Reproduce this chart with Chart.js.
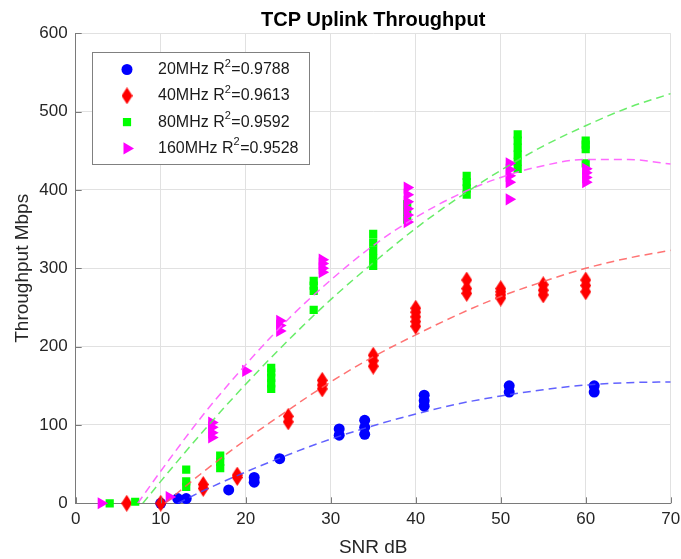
<!DOCTYPE html>
<html>
<head>
<meta charset="utf-8">
<script src="https://cdn.jsdelivr.net/npm/chart.js"></script>
<style>
  html, body { margin: 0; padding: 0; background: #fff; }
  #wrap { width: 681px; height: 559px; }
</style>
</head>
<body>
<div id="wrap"><canvas id="chart" width="681" height="559"></canvas></div>
<script>
// measured points, SNR (dB) vs throughput (Mbps)
const snr20 = [10, 12, 13, 18, 21, 21, 24, 31, 31, 34, 34, 34, 41, 41, 41, 51, 51, 61, 61];
const tput20 = [0, 6, 6, 17, 27, 33, 57, 87, 95, 88, 97, 106, 124, 131, 138, 142, 150, 142, 150];

const snr40 = [6, 10, 15, 15, 19, 19, 25, 25, 29, 29, 29, 35, 35, 35, 40, 40, 40, 40, 40, 46, 46, 46, 50, 50, 50, 50, 55, 55, 55, 60, 60, 60];
const tput40 = [0, 0, 19, 24, 33, 36, 104, 111, 146, 151, 157, 175, 182, 189, 226, 232, 238, 244, 249, 268, 274, 285, 262, 266, 270, 274, 266, 272, 279, 270, 278, 285];

const snr80 = [4, 7, 13, 13, 13, 17, 17, 17, 23, 23, 23, 23, 23, 28, 28, 28, 28, 35, 35, 35, 35, 35, 39, 39, 39, 46, 46, 46, 46, 52, 52, 52, 52, 52, 52, 60, 60, 60, 60];
const tput80 = [0, 2, 21, 28, 43, 45, 53, 61, 146, 153, 160, 167, 173, 247, 271, 278, 284, 303, 313, 323, 333, 344, 362, 372, 382, 394, 402, 410, 418, 427, 436, 445, 454, 463, 471, 434, 452, 458, 463];

const snr160 = [3, 11, 16, 16, 16, 16, 20, 24, 24, 24, 29, 29, 29, 29, 39, 39, 39, 39, 39, 39, 51, 51, 51, 51, 51, 60, 60, 60, 60];
const tput160 = [0, 8, 84, 90, 97, 103, 169, 220, 227, 233, 295, 300, 306, 311, 359, 368, 376, 385, 394, 403, 388, 410, 418, 426, 434, 410, 416, 422, 427];

// fitted curves
const fitX20 = [12, 15, 20, 25, 30, 35, 40, 45, 50, 55, 60, 65, 70];
const fitY20 = [0, 16, 40, 62, 82, 99, 114, 127, 137, 145, 151, 154, 155];
const fitX40 = [10.5, 15, 20, 25, 30, 35, 40, 45, 50, 55, 60, 65, 70];
const fitY40 = [0, 40, 81, 119, 155, 187, 215, 241, 264, 283, 300, 313, 323];
const fitX80 = [7.9, 10, 15, 20, 25, 30, 35, 40, 45, 50, 55, 60, 65, 70];
const fitY80 = [0, 28, 92, 152, 208, 260, 307, 351, 390, 425, 456, 482, 505, 523];
const fitX160 = [7.3, 10, 15, 20, 25, 30, 35, 40, 45, 50, 55, 60, 65, 70];
const fitY160 = [0, 41, 113, 177, 235, 285, 329, 365, 394, 416, 431, 439, 439, 433];

const names = ['20MHz', '40MHz', '80MHz', '160MHz'];
const rSquared = ['0.9788', '0.9613', '0.9592', '0.9528'];
const colors = ['#0000ff', '#ff0000', '#00ff00', '#ff00ff'];
const fitColors = ['rgba(70,70,255,0.85)', 'rgba(255,90,90,0.85)', 'rgba(90,235,90,0.9)', 'rgba(255,90,255,0.9)'];

const FONT = '"Liberation Sans", Arial, sans-serif';

function pairs(xs, ys) {
  return xs.map((x, i) => ({ x: x, y: ys[i] }));
}

// tall diamond marker like matlab's 'd'
function diamond(color, w, h) {
  var c = document.createElement('canvas');
  c.width = w; c.height = h;
  var g = c.getContext('2d');
  g.fillStyle = color;
  g.beginPath();
  g.moveTo(w / 2, 0);
  g.lineTo(w, h / 2);
  g.lineTo(w / 2, h);
  g.lineTo(0, h / 2);
  g.closePath();
  g.fill();
  return c;
}

const markerStyles = [
  { pointStyle: 'circle', radius: 5.5, rotation: 0 },
  { pointStyle: diamond(colors[1], 11, 17), radius: 8, rotation: 0 },
  { pointStyle: 'rect', radius: 5.8, rotation: 0 },
  { pointStyle: 'triangle', radius: 7, rotation: 90 }
];

const pointSets = [pairs(snr20, tput20), pairs(snr40, tput40), pairs(snr80, tput80), pairs(snr160, tput160)];
const fitSets = [pairs(fitX20, fitY20), pairs(fitX40, fitY40), pairs(fitX80, fitY80), pairs(fitX160, fitY160)];

var datasets = [];
for (var i = 0; i < 4; i++) {
  datasets.push({
    label: names[i] + ' R²=' + rSquared[i],
    data: pointSets[i],
    backgroundColor: colors[i],
    borderColor: colors[i],
    borderWidth: 0,
    pointStyle: markerStyles[i].pointStyle,
    pointRadius: markerStyles[i].radius,
    rotation: markerStyles[i].rotation,
    order: 5 - i,
    clip: 12,
    inLegend: true
  });
}
for (var j = 0; j < 4; j++) {
  datasets.push({
    label: names[j] + ' fit',
    data: fitSets[j],
    showLine: true,
    borderColor: fitColors[j],
    borderWidth: 1.5,
    borderDash: [8, 5],
    pointRadius: 0,
    cubicInterpolationMode: 'monotone',
    order: 0,
    inLegend: false
  });
}

// legend box drawn inside the axes, matlab style
const boxLegend = {
  id: 'boxLegend',
  afterDraw(chart) {
    var ctx = chart.ctx;
    var x0 = 92.5, y0 = 52.5, w = 217, h = 112;
    ctx.save();
    ctx.fillStyle = '#fff';
    ctx.fillRect(x0, y0, w, h);
    ctx.strokeStyle = '#808080';
    ctx.lineWidth = 1;
    ctx.strokeRect(x0, y0, w, h);
    var items = chart.data.datasets.filter(d => d.inLegend);
    items.forEach(function (ds, k) {
      var cy = 69.5 + k * 26.3;
      ctx.fillStyle = ds.backgroundColor;
      ctx.strokeStyle = ds.borderColor;
      Chart.helpers.drawPoint(ctx, {
        pointStyle: ds.pointStyle, radius: ds.pointRadius,
        rotation: ds.rotation, borderWidth: 0
      }, 127, cy);
      ctx.fillStyle = '#1a1a1a';
      ctx.textBaseline = 'middle';
      ctx.textAlign = 'left';
      ctx.font = '16px ' + FONT;
      var tx = 158;
      var a = names[k] + ' R';
      ctx.fillText(a, tx, cy);
      tx += ctx.measureText(a).width;
      ctx.font = '11px ' + FONT;
      ctx.fillText('2', tx, cy - 6);
      tx += ctx.measureText('2').width + 0.5;
      ctx.font = '16px ' + FONT;
      ctx.fillText('=' + rSquared[k], tx, cy);
    });
    ctx.restore();
  }
};

// inward tick marks on the two axes
const inTicks = {
  id: 'inTicks',
  afterDraw(chart) {
    var ctx = chart.ctx, a = chart.chartArea;
    var xs = chart.scales.x, ys = chart.scales.y;
    ctx.save();
    ctx.strokeStyle = '#7a7a7a';
    ctx.lineWidth = 1;
    ctx.beginPath();
    xs.ticks.forEach(function (t) {
      var px = Math.round(xs.getPixelForValue(t.value)) + 0.5;
      ctx.moveTo(px, a.bottom);
      ctx.lineTo(px, a.bottom - 6);
    });
    ys.ticks.forEach(function (t) {
      var py = Math.round(ys.getPixelForValue(t.value)) + 0.5;
      ctx.moveTo(a.left, py);
      ctx.lineTo(a.left + 6, py);
    });
    ctx.stroke();
    ctx.restore();
  }
};

new Chart(document.getElementById('chart'), {
  type: 'scatter',
  data: { datasets: datasets },
  options: {
    responsive: false,
    animation: false,
    events: [],
    layout: { padding: { left: 0, right: 0, top: 0, bottom: 0 } },
    plugins: {
      legend: { display: false },
      tooltip: { enabled: false },
      title: {
        display: true,
        fullSize: false,
        text: 'TCP Uplink Throughput',
        color: '#000',
        font: { family: FONT, size: 20, weight: 'bold' },
        padding: { top: 8, bottom: 1.3 }
      }
    },
    scales: {
      x: {
        type: 'linear',
        min: 0, max: 70,
        afterFit(scale) { scale.height = 55.7; scale.paddingRight = 10.3; },
        ticks: { stepSize: 10, color: '#262626', padding: 6, font: { family: FONT, size: 17 } },
        grid: { color: '#e1e1e1', drawTicks: false },
        border: { display: true, color: '#7a7a7a', width: 1 },
        title: {
          display: true, text: 'SNR dB', color: '#262626',
          font: { family: FONT, size: 19 }, padding: { top: 0, bottom: 0 }
        }
      },
      y: {
        type: 'linear',
        min: 0, max: 600,
        afterFit(scale) { scale.width = 75.7; },
        ticks: { stepSize: 100, color: '#262626', padding: 8, font: { family: FONT, size: 17 } },
        grid: { color: '#e1e1e1', drawTicks: false },
        border: { display: true, color: '#7a7a7a', width: 1 },
        title: {
          display: true, text: 'Throughput Mbps', color: '#262626',
          font: { family: FONT, size: 19 }, padding: { top: 11, bottom: 0 }
        }
      }
    }
  },
  plugins: [boxLegend, inTicks]
});
</script>
</body>
</html>
